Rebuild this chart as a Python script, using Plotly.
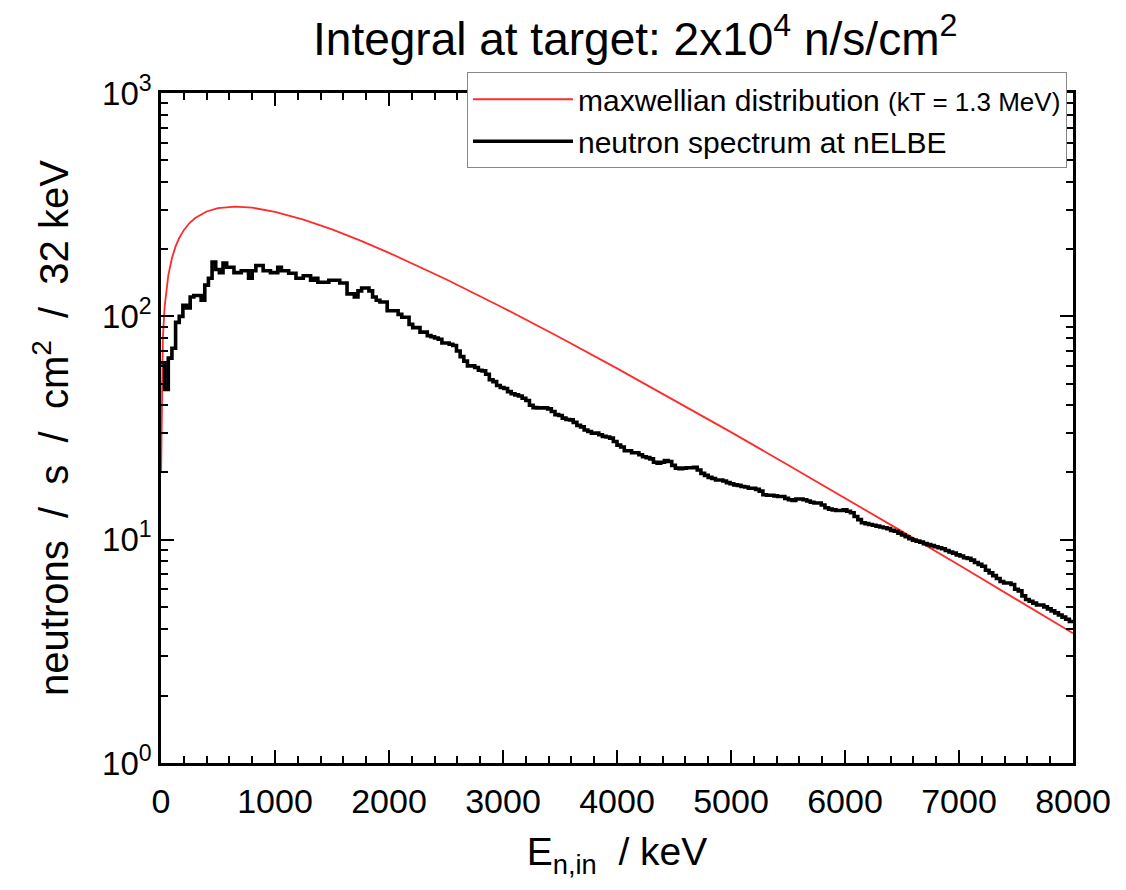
import numpy as np
import plotly.graph_objects as go

# ---- data ----
# Maxwellian distribution (kT = 1.3 MeV): energy (keV) and flux
maxw_energy = [1, 8, 16, 32, 48, 64, 96, 128, 160, 200, 250, 300, 400, 500, 650, 800,
               1000, 1250, 1500, 1750, 2000, 2500, 3000, 3500, 4000, 4500, 5000, 5500,
               6000, 6500, 7000, 7500, 8000]
maxw_flux = [20.0, 56.4, 79.2, 110.7, 133.9, 152.7, 182.5, 205.6, 224.2, 243.1, 261.6, 275.7,
             294.8, 305.2, 310.0, 306.5, 293.8, 271.0, 244.9, 218.3, 192.5, 146.5, 109.3,
             80.4, 58.5, 42.2, 30.3, 21.6, 15.38, 10.89, 7.70, 5.42, 3.81]

# nELBE neutron spectrum, 32 keV bins starting at 0 keV
bin_width = 32
spec_flux = [
    62, 47, 65, 72, 94, 100, 112, 109, 122, 124,
    124, 118, 138, 148, 175, 162, 157, 173, 166, 166,
    157, 157, 160, 160, 148, 160, 169, 169, 160, 160,
    157, 157, 166, 160, 160, 156, 156, 148, 148, 152,
    152, 145, 148, 142, 142, 142, 145, 145, 145, 141,
    141, 126, 126, 122, 130, 134, 134, 130, 122, 118,
    116, 116, 106, 106, 106, 102, 99, 99, 92, 89,
    89, 85, 85, 82, 81, 80, 79, 76, 76, 75,
    74, 70, 66, 63, 60, 60, 59, 57.4, 57, 55,
    52, 51, 49, 48, 47.5, 46, 45, 44.5, 44, 43,
    42, 40, 39, 38.9, 38.9, 38.9, 38.5, 37.5, 36.3, 36,
    35, 34.5, 34.4, 33.5, 32.5, 32, 31, 30.5, 30, 30,
    29.5, 29, 28.8, 28.5, 27.5, 26.5, 26, 25, 25, 24.5,
    24.5, 24, 23.5, 23.3, 23, 22.2, 22, 22.2, 22.6, 22.4,
    21.5, 20.9, 20.8, 20.9, 21, 21, 21.1, 20.5, 19.8, 19.4,
    19, 18.8, 18.5, 18.5, 18.3, 18, 17.8, 17.6, 17.5, 17.3,
    17.2, 17.0, 17, 16.8, 16.5, 15.9, 15.8, 15.8, 15.7, 15.6,
    15.6, 15.3, 15.1, 15.0, 15.2, 15.2, 15.1, 14.9, 14.7, 14.6,
    14.6, 14.3, 13.9, 13.7, 13.6, 13.5, 13.5, 13.6, 13.4, 13.2,
    12.7, 12.3, 11.9, 11.8, 11.7, 11.6, 11.5, 11.4, 11.3, 11.2,
    11.0, 10.9, 10.7, 10.5, 10.3, 10.1, 9.95, 9.85, 9.75, 9.6,
    9.5, 9.4, 9.3, 9.2, 9.1, 8.95, 8.8, 8.7, 8.55, 8.45,
    8.3, 8.25, 8.1, 7.9, 7.75, 7.6, 7.3, 7.1, 6.9, 6.7,
    6.5, 6.4, 6.4, 6.3, 6.0, 5.9, 5.6, 5.4, 5.3, 5.2,
    5.1, 5.1, 5.0, 4.9, 4.8, 4.7, 4.6, 4.5, 4.4, 4.3,
]
spec_edges = [i * bin_width for i in range(len(spec_flux) + 1)]

y_tickvals = [1, 10, 100, 1000]
y_ticktext = ["10<sup>0</sup>", "10<sup>1</sup>", "10<sup>2</sup>", "10<sup>3</sup>"]
x_tickvals = [0, 1000, 2000, 3000, 4000, 5000, 6000, 7000, 8000]

FONT = "Liberation Sans, Arial, sans-serif"

fig = go.Figure()
fig.add_trace(go.Scatter(
    x=maxw_energy, y=maxw_flux, mode="lines",
    line=dict(color="#ff2a2a", width=1.8),
    name="maxwellian distribution <span style='font-size:26px'>(kT = 1.3 MeV)</span>",
))
fig.add_trace(go.Scatter(
    x=spec_edges, y=spec_flux + [spec_flux[-1]], mode="lines",
    line=dict(color="black", width=3.6, shape="hv"),
    name="neutron spectrum at nELBE",
))

# page body has an 8 px margin, so the figure is 8 px smaller than the window
fig.update_layout(
    width=1118, height=882,
    margin=dict(l=153, r=53, t=85, b=127),
    paper_bgcolor="white", plot_bgcolor="white",
    font=dict(family=FONT, color="black", size=30),
    title=dict(
        text="Integral at target: 2x10<sup>4</sup> n/s/cm<sup>2</sup>",
        x=0.561, xanchor="center", y=0.965, yanchor="middle",
        font=dict(size=46, family=FONT, color="black"),
    ),
    showlegend=True,
    legend=dict(
        x=0.3355, y=1.031, xanchor="left", yanchor="top",
        bgcolor="white", bordercolor="#888888", borderwidth=1,
        font=dict(size=30, family=FONT, color="black"),
        itemwidth=100, tracegroupgap=0,
    ),
)

fig.update_xaxes(
    range=[0, 8000], tickvals=x_tickvals,
    showline=True, linecolor="black", linewidth=2.5, mirror="allticks",
    ticks="inside", ticklen=13, tickwidth=2, tickcolor="black",
    minor=dict(ticks="inside", ticklen=7, tickwidth=2, tickcolor="black", dtick=200),
    showgrid=False, zeroline=False,
    tickfont=dict(size=34, family=FONT), ticklabelstandoff=6,
    title=dict(text="E<sub>n,in</sub>  / keV", font=dict(size=39, family=FONT), standoff=20),
)
fig.update_yaxes(
    type="log", range=[0, 3], tickvals=y_tickvals, ticktext=y_ticktext,
    showline=True, linecolor="black", linewidth=2.5, mirror="allticks",
    ticks="inside", ticklen=13, tickwidth=2, tickcolor="black",
    minor=dict(ticks="inside", ticklen=7, tickwidth=2, tickcolor="black",
               tickvals=[m * 10 ** d for d in range(3) for m in range(2, 10)]),
    showgrid=False, zeroline=False,
    tickfont=dict(size=33, family=FONT),
    title=dict(text="neutrons&nbsp; / &nbsp;s&nbsp; / &nbsp;cm<sup>2</sup>&nbsp; / &nbsp;32 keV",
               font=dict(size=40, family=FONT), standoff=22),
)

fig.write_html("out.html")
